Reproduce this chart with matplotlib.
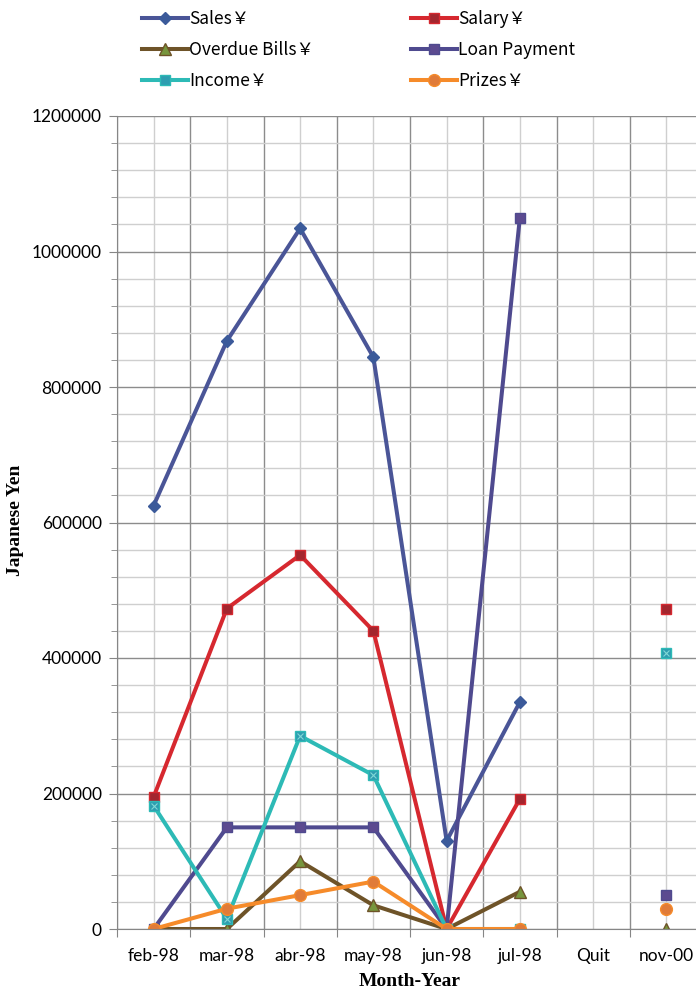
import numpy as np
import matplotlib
matplotlib.use("Agg")
import matplotlib.pyplot as plt
from matplotlib.ticker import MultipleLocator, FuncFormatter

plt.rcParams['font.family'] = ['Lato', 'Noto Sans CJK JP', 'DejaVu Sans']

months = ['feb-98', 'mar-98', 'abr-98', 'may-98', 'jun-98', 'jul-98', 'Quit', 'nov-00']
nan = np.nan

sales = [625000, 868000, 1034000, 844000, 130000, 335000, nan, nan]
salary = [195000, 473000, 552000, 440000, 0, 192000, nan, 473000]
overdue = [0, 0, 100000, 35000, 0, 55000, nan, 0]
loan = [0, 150000, 150000, 150000, 0, 1050000, nan, 50000]
income = [182000, 15000, 285000, 227000, 0, 0, nan, 408000]
prizes = [0, 30000, 50000, 70000, 0, 0, nan, 30000]

fig = plt.figure(figsize=(6.96, 9.91), dpi=100)
ax = fig.add_axes([117/696, 62/991, 586/696, 813/991])

x = np.arange(len(months))
lw = 2.9
ms = 7.5

h_sales, = ax.plot(x, sales, color='#4A5597', lw=lw, marker='D', ms=6.5,
                   mfc='#3B5A9A', mec='#3B5A9A', label='Sales￥')
h_salary, = ax.plot(x, salary, color='#D6282F', lw=lw, marker='s', ms=ms,
                    mfc='#A3262E', mec='#D6282F', label='Salary￥')
h_overdue, = ax.plot(x, overdue, color='#6E5328', lw=lw, marker='^', ms=ms + 1,
                     mfc='#77953D', mec='#6E5328', label='Overdue Bills￥')
h_loan, = ax.plot(x, loan, color='#4F4A8F', lw=lw, marker='s', ms=ms,
                  mfc='#5C4A90', mec='#4F4A8F', label='Loan Payment')
h_income, = ax.plot(x, income, color='#2DBAB6', lw=lw, marker='s', ms=ms,
                    mfc='#2E9DB0', mec='#2DBAB6', label='Income￥')
ax.plot(x, income, ls='none', marker='x', ms=4, mew=0.8, color='#7FD8D6')
h_prizes, = ax.plot(x, prizes, color='#F68B2A', lw=lw, marker='o', ms=ms + 1,
                    mfc='#E07B39', mec='#F68B2A', label='Prizes￥')

ax.set_xlim(-0.5, len(months) - 0.5)
ax.set_ylim(0, 1200000)

# category boundaries as major ticks, category centres carry the labels
ax.set_xticks(np.arange(-0.5, len(months), 1))
ax.set_xticklabels([])
ax.set_xticks(x, minor=True)
ax.set_xticklabels(months, minor=True, fontsize=12.5)
ax.tick_params(axis='x', which='major', length=6, color='#868686')
ax.tick_params(axis='x', which='minor', length=0, pad=14)

ax.yaxis.set_major_locator(MultipleLocator(200000))
ax.yaxis.set_minor_locator(MultipleLocator(40000))
ax.yaxis.set_major_formatter(FuncFormatter(lambda v, p: f'{int(round(v))}'))
ax.tick_params(axis='y', which='major', length=6, color='#868686', labelsize=12.5, pad=5)
ax.tick_params(axis='y', which='minor', length=4, color='#868686')

ax.grid(which='major', color='#8C8C8C', lw=1.0)
ax.grid(which='minor', color='#CFCFCF', lw=1.0)
ax.set_axisbelow(True)

for side in ['top', 'right']:
    ax.spines[side].set_visible(False)
ax.spines['left'].set_color('#868686')
ax.spines['bottom'].set_color('#868686')

ax.set_xlabel('Month-Year', family='Liberation Serif', fontweight='bold', fontsize=14, labelpad=6)
ax.set_ylabel('Japanese Yen', family='Liberation Serif', fontweight='bold', fontsize=14)
ax.yaxis.set_label_coords(-0.174, 0.503)
ax.yaxis.label.set_va('center')

# legend text in the CJK face so the yen sign comes out full width
handles = [h_sales, h_overdue, h_income, h_salary, h_loan, h_prizes]
fig.legend(handles=handles, labels=[h.get_label() for h in handles],
           loc='upper left', bbox_to_anchor=(132/696, 1.0), ncol=2, frameon=False,
           prop={'family': ['Noto Sans CJK JP', 'DejaVu Sans'], 'size': 12.5},
           handlelength=2.6, handletextpad=0.1, labelspacing=0.75,
           columnspacing=5.6, borderaxespad=0.2)

fig.savefig('out.png', dpi=100)
